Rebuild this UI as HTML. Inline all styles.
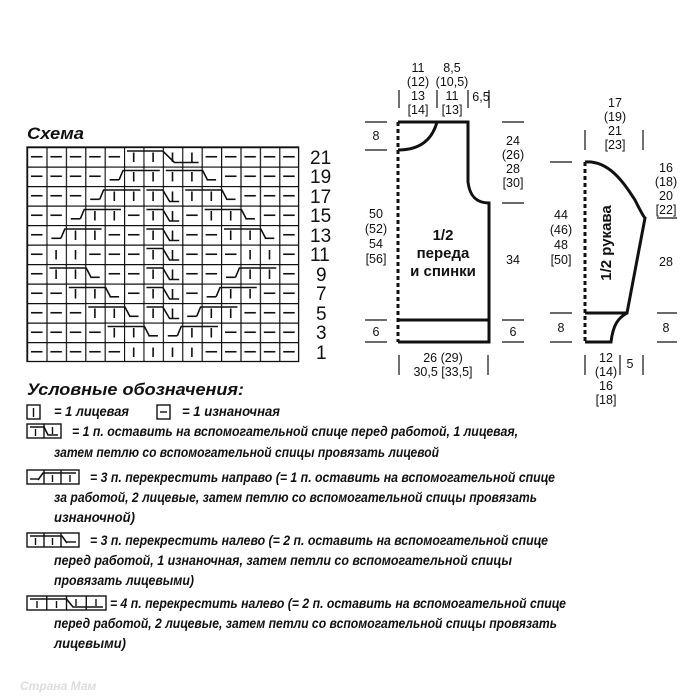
<!DOCTYPE html>
<html><head><meta charset="utf-8"><style>
html,body{margin:0;padding:0;background:#fff}
svg{display:block}
.d{font-family:"Liberation Sans",sans-serif;font-size:12.5px;fill:#111;text-anchor:middle}
.l{font-family:"Liberation Sans",sans-serif;font-size:14px;font-weight:bold;font-style:italic;fill:#111}
</style></head><body>
<svg width="700" height="700" viewBox="0 0 700 700" xmlns="http://www.w3.org/2000/svg">
<defs>
<pattern id="gp" patternUnits="userSpaceOnUse" x="27" y="147" width="19.4" height="19.5">
<rect width="19.4" height="19.5" fill="#fff"/>
<path d="M0,0 H19.4 M0,0 V19.5" stroke="#111" stroke-width="2.4" fill="none"/>
<line x1="4" y1="9.75" x2="15.5" y2="9.75" stroke="#111" stroke-width="1.6"/>
</pattern>
<g id="k"><rect x="1.3" y="1.3" width="16.8" height="16.9" fill="#fff"/><line x1="9.7" y1="5.5" x2="9.7" y2="15" stroke="#111" stroke-width="1.6"/></g>
<g id="e"><rect x="1.3" y="1.3" width="16.8" height="16.9" fill="#fff"/><line x1="5" y1="13.3" x2="14.5" y2="13.3" stroke="#111" stroke-width="1.6"/></g>
</defs>
<text x="27" y="139" class="l" style="font-size:17px" textLength="57" lengthAdjust="spacingAndGlyphs">Схема</text>
<rect x="27" y="147" width="271.6" height="214.5" fill="url(#gp)" stroke="#111" stroke-width="1.3"/>
<!-- knit / E cells -->
<use href="#k" x="124" y="147"/><use href="#k" x="143.4" y="147"/><use href="#k" x="162.8" y="147"/><use href="#k" x="182.2" y="147"/>
<use href="#e" x="104.6" y="166.5"/><use href="#k" x="124" y="166.5"/><use href="#k" x="143.4" y="166.5"/><use href="#k" x="162.8" y="166.5"/><use href="#k" x="182.2" y="166.5"/><use href="#e" x="201.6" y="166.5"/>
<use href="#e" x="85.2" y="186"/><use href="#k" x="104.6" y="186"/><use href="#k" x="124" y="186"/><use href="#k" x="143.4" y="186"/><use href="#k" x="162.8" y="186"/><use href="#k" x="182.2" y="186"/><use href="#k" x="201.6" y="186"/><use href="#e" x="221" y="186"/>
<use href="#e" x="65.8" y="205.5"/><use href="#k" x="85.2" y="205.5"/><use href="#k" x="104.6" y="205.5"/><use href="#k" x="143.4" y="205.5"/><use href="#k" x="162.8" y="205.5"/><use href="#k" x="201.6" y="205.5"/><use href="#k" x="221" y="205.5"/><use href="#e" x="240.4" y="205.5"/>
<use href="#e" x="46.4" y="225"/><use href="#k" x="65.8" y="225"/><use href="#k" x="85.2" y="225"/><use href="#k" x="143.4" y="225"/><use href="#k" x="162.8" y="225"/><use href="#k" x="221" y="225"/><use href="#k" x="240.4" y="225"/><use href="#e" x="259.8" y="225"/>
<use href="#k" x="46.4" y="244.5"/><use href="#k" x="65.8" y="244.5"/><use href="#k" x="143.4" y="244.5"/><use href="#k" x="162.8" y="244.5"/><use href="#k" x="240.4" y="244.5"/><use href="#k" x="259.8" y="244.5"/>
<use href="#k" x="46.4" y="264"/><use href="#k" x="65.8" y="264"/><use href="#e" x="85.2" y="264"/><use href="#k" x="143.4" y="264"/><use href="#k" x="162.8" y="264"/><use href="#e" x="221" y="264"/><use href="#k" x="240.4" y="264"/><use href="#k" x="259.8" y="264"/>
<use href="#k" x="65.8" y="283.5"/><use href="#k" x="85.2" y="283.5"/><use href="#e" x="104.6" y="283.5"/><use href="#k" x="143.4" y="283.5"/><use href="#k" x="162.8" y="283.5"/><use href="#e" x="201.6" y="283.5"/><use href="#k" x="221" y="283.5"/><use href="#k" x="240.4" y="283.5"/>
<use href="#k" x="85.2" y="303"/><use href="#k" x="104.6" y="303"/><use href="#e" x="124" y="303"/><use href="#k" x="143.4" y="303"/><use href="#k" x="162.8" y="303"/><use href="#e" x="182.2" y="303"/><use href="#k" x="201.6" y="303"/><use href="#k" x="221" y="303"/>
<use href="#k" x="104.6" y="322.5"/><use href="#k" x="124" y="322.5"/><use href="#e" x="143.4" y="322.5"/><use href="#e" x="162.8" y="322.5"/><use href="#k" x="182.2" y="322.5"/><use href="#k" x="201.6" y="322.5"/>
<use href="#k" x="124" y="342"/><use href="#k" x="143.4" y="342"/><use href="#k" x="162.8" y="342"/><use href="#k" x="182.2" y="342"/>
<!-- cables -->
<g stroke="#111" stroke-width="1.6" fill="none">
<path d="M127,151 H162.8 L174.4,162.5 H198.6"/>
<path d="M159.8,170.5 H123 L119.1,179.8"/><path d="M165.8,170.5 H202.6 L207.4,179.8"/>
<path d="M140.4,190 H103.6 L99.7,199.3"/><path d="M146.4,190 H162.8 L169.6,201.5 H179.2"/><path d="M185.2,190 H222 L226.8,199.3"/>
<path d="M121,209.5 H84.2 L80.3,218.8"/><path d="M146.4,209.5 H162.8 L169.6,221 H179.2"/><path d="M204.6,209.5 H241.4 L246.2,218.8"/>
<path d="M101.6,229 H64.8 L60.9,238.3"/><path d="M146.4,229 H162.8 L169.6,240.5 H179.2"/><path d="M224,229 H260.8 L265.6,238.3"/>
<path d="M146.4,248.5 H162.8 L169.6,260 H179.2"/>
<path d="M49.4,268 H86.2 L91,277.3"/><path d="M146.4,268 H162.8 L169.6,279.5 H179.2"/><path d="M276.2,268 H239.4 L235.5,277.3"/>
<path d="M68.8,287.5 H105.6 L110.4,296.8"/><path d="M146.4,287.5 H162.8 L169.6,299 H179.2"/><path d="M256.8,287.5 H220 L216.1,296.8"/>
<path d="M88.2,307 H125 L129.8,316.3"/><path d="M146.4,307 H162.8 L169.6,318.5 H179.2"/><path d="M237.4,307 H200.6 L196.7,316.3"/>
<path d="M107.6,326.5 H144.4 L149.2,335.8"/><path d="M218,326.5 H181.2 L177.3,335.8"/>
</g>
<g font-family="Liberation Sans, sans-serif" font-size="19" fill="#111">
<text x="310" y="164">21</text><text x="310" y="183">19</text><text x="310" y="203">17</text>
<text x="310" y="222">15</text><text x="310" y="242">13</text><text x="310" y="261">11</text>
<text x="316" y="281">9</text><text x="316" y="300">7</text><text x="316" y="320">5</text>
<text x="316" y="339">3</text><text x="316" y="359">1</text>
</g>

<!-- body -->
<g stroke="#111" stroke-width="3" fill="none">
<path d="M398,122 L468,122 L468,182 C470,198 478,203 489,203 L489,342 L398,342"/>
<path d="M437,122 C432,140 420,150 398,150"/>
<line x1="398" y1="320" x2="489" y2="320"/>
<line x1="398" y1="122" x2="398" y2="342" stroke-dasharray="4,3"/>
<path d="M585,162 C610,160 625,185 635,200 C640,210 643,216 645,218 L627,313 L585,313"/>
<path d="M627,313 C618,318 613,325 611,342 L585,342"/>
<line x1="585" y1="162" x2="585" y2="342" stroke-dasharray="4,3"/>
</g>
<g stroke="#111" stroke-width="1.2">
<line x1="365" y1="122" x2="387" y2="122"/><line x1="365" y1="150" x2="387" y2="150"/>
<line x1="365" y1="320" x2="387" y2="320"/><line x1="365" y1="342" x2="387" y2="342"/>
<line x1="502" y1="122" x2="524" y2="122"/><line x1="502" y1="203" x2="524" y2="203"/>
<line x1="502" y1="320" x2="524" y2="320"/><line x1="502" y1="342" x2="524" y2="342"/>
<line x1="399" y1="90" x2="399" y2="108"/><line x1="437" y1="90" x2="437" y2="108"/>
<line x1="468" y1="90" x2="468" y2="108"/><line x1="489" y1="90" x2="489" y2="108"/>
<line x1="399" y1="355" x2="399" y2="375"/><line x1="488" y1="355" x2="488" y2="375"/>
<line x1="550" y1="162" x2="572" y2="162"/><line x1="550" y1="313" x2="572" y2="313"/><line x1="550" y1="342" x2="572" y2="342"/>
<line x1="585" y1="130" x2="585" y2="150"/><line x1="643" y1="130" x2="643" y2="150"/>
<line x1="657" y1="313" x2="677" y2="313"/><line x1="657" y1="342" x2="677" y2="342"/><line x1="657" y1="218" x2="677" y2="218"/>
<line x1="585" y1="355" x2="585" y2="375"/><line x1="620" y1="355" x2="620" y2="375"/><line x1="643" y1="355" x2="643" y2="375"/>
</g>
<g class="d">
<text x="418" y="72">11</text><text x="418" y="86">(12)</text><text x="418" y="100">13</text><text x="418" y="114">[14]</text>
<text x="452" y="72">8,5</text><text x="452" y="86">(10,5)</text><text x="452" y="100">11</text><text x="452" y="114">[13]</text>
<text x="481" y="101">6,5</text>
<text x="376" y="140">8</text><text x="376" y="336">6</text>
<text x="376" y="218">50</text><text x="376" y="233">(52)</text><text x="376" y="248">54</text><text x="376" y="263">[56]</text>
<text x="513" y="145">24</text><text x="513" y="159">(26)</text><text x="513" y="173">28</text><text x="513" y="187">[30]</text>
<text x="513" y="264">34</text><text x="513" y="336">6</text>
<text x="443" y="362">26 (29)</text><text x="443" y="376">30,5 [33,5]</text>
<text x="615" y="107">17</text><text x="615" y="121">(19)</text><text x="615" y="135">21</text><text x="615" y="149">[23]</text>
<text x="561" y="219">44</text><text x="561" y="234">(46)</text><text x="561" y="249">48</text><text x="561" y="264">[50]</text>
<text x="561" y="332">8</text>
<text x="666" y="172">16</text><text x="666" y="186">(18)</text><text x="666" y="200">20</text><text x="666" y="214">[22]</text>
<text x="666" y="266">28</text><text x="666" y="332">8</text>
<text x="606" y="362">12</text><text x="606" y="376">(14)</text><text x="606" y="390">16</text><text x="606" y="404">[18]</text>
<text x="630" y="368">5</text>
</g>
<g font-family="Liberation Sans, sans-serif" font-weight="bold" font-size="15" fill="#111" text-anchor="middle">
<text x="443" y="240">1/2</text><text x="443" y="258">переда</text><text x="443" y="276">и спинки</text>
<text transform="translate(611,243) rotate(-90)" x="0" y="0">1/2 рукава</text>
</g>

<!-- legend -->
<g class="l">
<text x="27" y="395" style="font-size:17px" textLength="217" lengthAdjust="spacingAndGlyphs">Условные обозначения:</text>
<text x="54" y="416" textLength="75" lengthAdjust="spacingAndGlyphs">= 1 лицевая</text>
<text x="182" y="416" textLength="98" lengthAdjust="spacingAndGlyphs">= 1 изнаночная</text>
<text x="72" y="436" textLength="446" lengthAdjust="spacingAndGlyphs">= 1 п. оставить на вспомогательной спице перед работой, 1 лицевая,</text>
<text x="54" y="457" textLength="385" lengthAdjust="spacingAndGlyphs">затем петлю со вспомогательной спицы провязать лицевой</text>
<text x="90" y="482" textLength="465" lengthAdjust="spacingAndGlyphs">= 3 п. перекрестить направо (= 1 п. оставить на вспомогательной спице</text>
<text x="54" y="502" textLength="483" lengthAdjust="spacingAndGlyphs">за работой, 2 лицевые, затем петлю со вспомогательной спицы провязать</text>
<text x="54" y="522" textLength="81" lengthAdjust="spacingAndGlyphs">изнаночной)</text>
<text x="90" y="545" textLength="458" lengthAdjust="spacingAndGlyphs">= 3 п. перекрестить налево (= 2 п. оставить на вспомогательной спице</text>
<text x="54" y="565" textLength="458" lengthAdjust="spacingAndGlyphs">перед работой, 1 изнаночная, затем петли со вспомогательной спицы</text>
<text x="54" y="585" textLength="140" lengthAdjust="spacingAndGlyphs">провязать лицевыми)</text>
<text x="110" y="608" textLength="456" lengthAdjust="spacingAndGlyphs">= 4 п. перекрестить налево (= 2 п. оставить на вспомогательной спице</text>
<text x="54" y="628" textLength="503" lengthAdjust="spacingAndGlyphs">перед работой, 2 лицевые, затем петли со вспомогательной спицы провязать</text>
<text x="54" y="648" textLength="72" lengthAdjust="spacingAndGlyphs">лицевыми)</text>
</g>
<g stroke="#111" fill="none" stroke-width="1.4">
<!-- icon knit -->
<rect x="27" y="405" width="13" height="14"/><line x1="33.5" y1="408" x2="33.5" y2="417"/>
<!-- icon purl -->
<rect x="157" y="405" width="13" height="14"/><line x1="160" y1="412" x2="167" y2="412"/>
<!-- icon 2-st cable -->
<rect x="27" y="424" width="34" height="14"/><line x1="44" y1="424" x2="44" y2="438"/>
<line x1="35.5" y1="429" x2="35.5" y2="436"/><line x1="52.5" y1="427" x2="52.5" y2="434"/>
<path d="M30,427 H44 L48,435 H58" stroke-width="1.6"/>
<!-- icon right cross -->
<rect x="27" y="470" width="52" height="14"/><line x1="44" y1="470" x2="44" y2="484"/><line x1="61" y1="470" x2="61" y2="484"/>
<line x1="30" y1="479" x2="38" y2="479"/><line x1="52.5" y1="475" x2="52.5" y2="482"/><line x1="70" y1="475" x2="70" y2="482"/>
<path d="M76,473 H43 L38,480" stroke-width="1.6"/>
<!-- icon left cross -->
<rect x="27" y="533" width="52" height="14"/><line x1="44" y1="533" x2="44" y2="547"/><line x1="61" y1="533" x2="61" y2="547"/>
<line x1="35.5" y1="538" x2="35.5" y2="545"/><line x1="52.5" y1="538" x2="52.5" y2="545"/><line x1="67" y1="542" x2="76" y2="542"/>
<path d="M30,536 H62 L67,543" stroke-width="1.6"/>
<!-- icon 4-st cable -->
<rect x="27" y="596" width="79" height="14"/><line x1="46.75" y1="596" x2="46.75" y2="610"/><line x1="66.5" y1="596" x2="66.5" y2="610"/><line x1="86.25" y1="596" x2="86.25" y2="610"/>
<line x1="37" y1="601" x2="37" y2="608"/><line x1="56.5" y1="601" x2="56.5" y2="608"/><line x1="76" y1="599" x2="76" y2="606"/><line x1="96" y1="599" x2="96" y2="606"/>
<path d="M30,599 H66.5 L73,607 H103" stroke-width="1.6"/>
</g>
<text x="20" y="690" font-family="Liberation Sans, sans-serif" font-size="12" font-weight="bold" font-style="italic" fill="#ddd">Страна Мам</text>
</svg>
</body></html>
